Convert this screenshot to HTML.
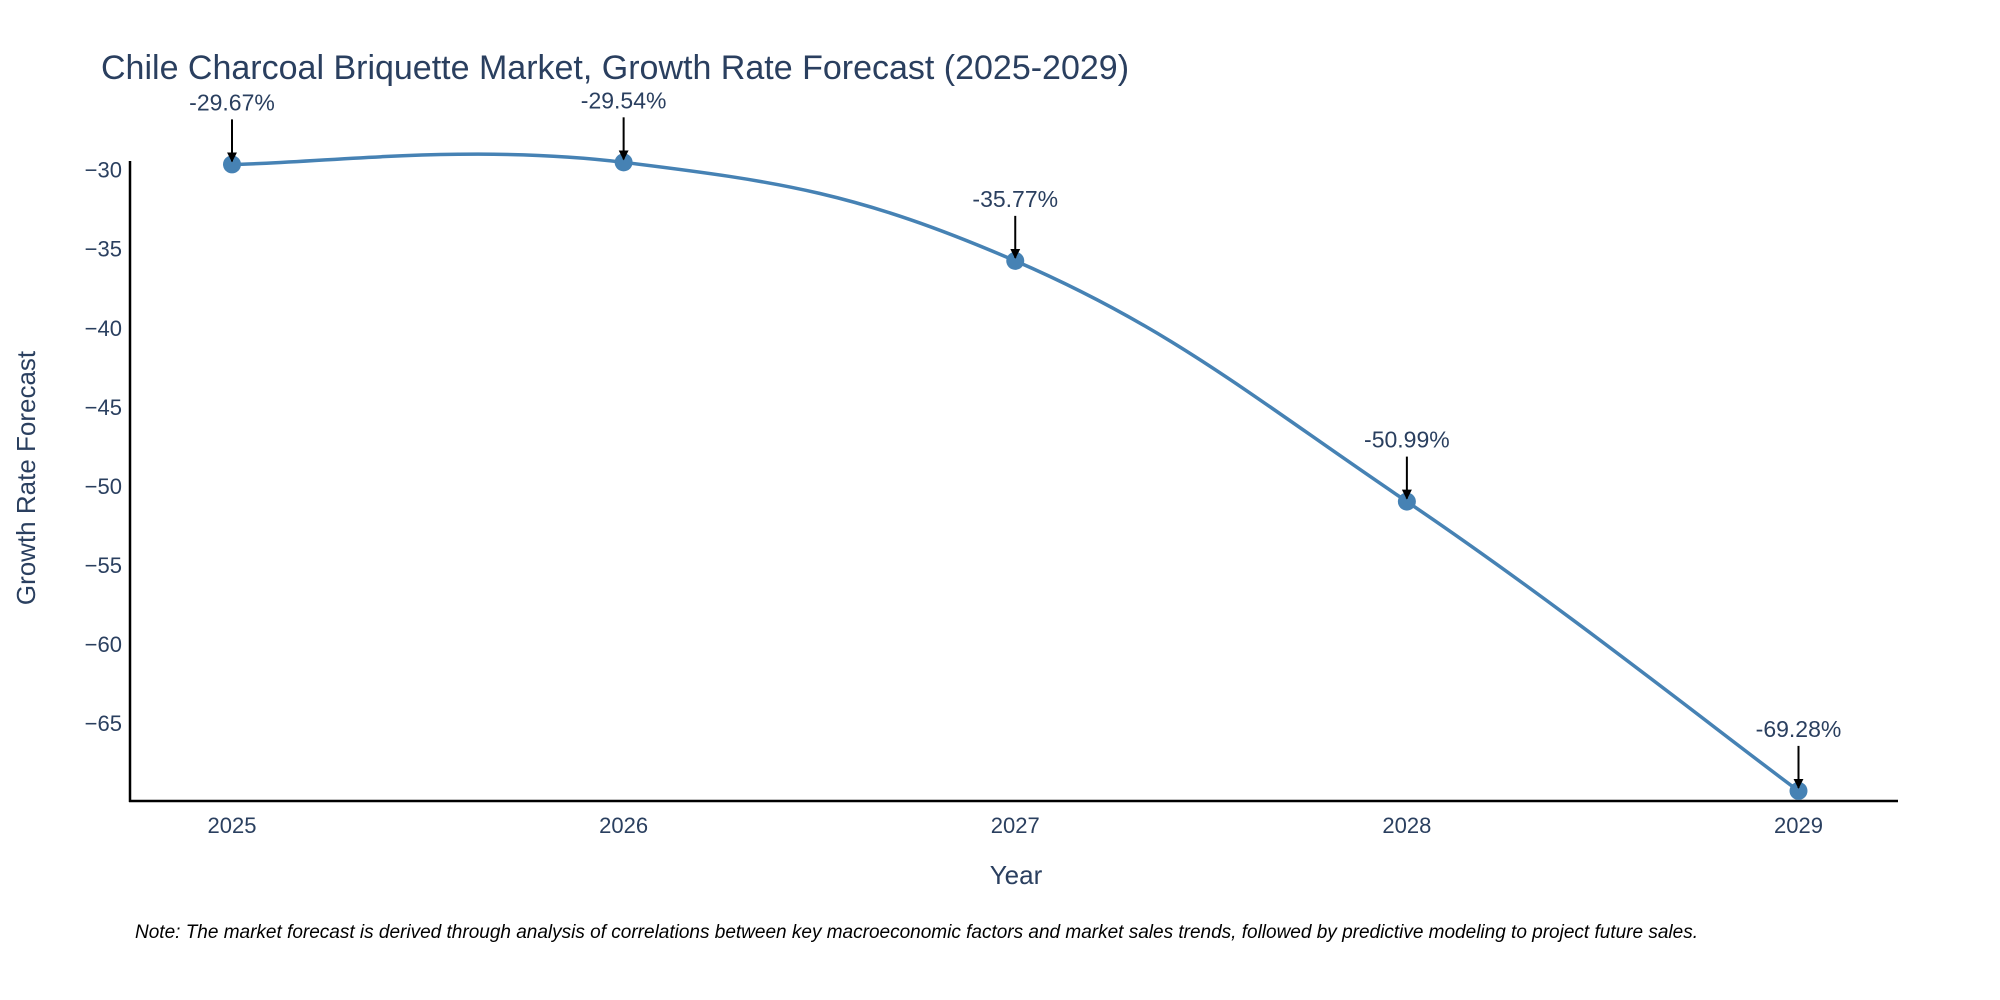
<!DOCTYPE html>
<html><head><meta charset="utf-8">
<style>
html,body{margin:0;padding:0;background:#fff;}
svg{display:block;font-family:"Liberation Sans",sans-serif;}
</style></head>
<body>
<svg id="chart" width="2000" height="1000" viewBox="0 0 2000 1000">
  <defs>
    <marker id="arrowhead" viewBox="0 0 10 10" refX="9" refY="5" markerWidth="5" markerHeight="5" orient="auto">
      <path d="M0,0 L10,5 L0,10 z" fill="#000"/>
    </marker>
  </defs>
  <text x="101" y="79" font-size="34" fill="#2a3f5f">Chile Charcoal Briquette Market, Growth Rate Forecast (2025-2029)</text>
  <g id="yticks"></g>
  <g id="xticks"></g>
  <line x1="130" y1="161" x2="130" y2="802" stroke="#000" stroke-width="2.5"/>
  <line x1="129" y1="801" x2="1898" y2="801" stroke="#000" stroke-width="2.5"/>
  <g id="series"></g>
  <g id="annotations"></g>
  <text x="1016" y="884" font-size="26" fill="#2a3f5f" text-anchor="middle">Year</text>
  <text x="0" y="0" font-size="26" fill="#2a3f5f" text-anchor="middle" transform="translate(35,478) rotate(-90)">Growth Rate Forecast</text>
  <text x="135" y="938" font-size="19" font-style="italic" fill="#000">Note: The market forecast is derived through analysis of correlations between key macroeconomic factors and market sales trends, followed by predictive modeling to project future sales.</text>
</svg>
<script>
const years = [2025, 2026, 2027, 2028, 2029];
const growthValues = [-29.67, -29.54, -35.77, -50.99, -69.28];
const valueLabels = ["-29.67%", "-29.54%", "-35.77%", "-50.99%", "-69.28%"];
const yTickValues = [-30, -35, -40, -45, -50, -55, -60, -65];

const NS = "http://www.w3.org/2000/svg";
function xScale(v){ return 232 + (v - 2025) * (1798.5 - 232) / 4; }
function yScale(v){ return 169.6 + (-30 - v) * (723.2 - 169.6) / 35; }
function mk(tag, attrs, parent){
  const e = document.createElementNS(NS, tag);
  for (const k in attrs) e.setAttribute(k, attrs[k]);
  parent.appendChild(e);
  return e;
}
const yt = document.getElementById("yticks");
yTickValues.forEach(v => {
  const t = mk("text", {x:122, y:yScale(v)+8, "font-size":22, fill:"#2a3f5f", "text-anchor":"end"}, yt);
  
  
  t.textContent = "\u2212" + Math.abs(v);
});
const xt = document.getElementById("xticks");
years.forEach(v => {
  const t = mk("text", {x:xScale(v), y:833, "font-size":22, fill:"#2a3f5f", "text-anchor":"middle"}, xt);
  
  
  t.textContent = String(v);
});
const pts = years.map((y,i) => [xScale(y), yScale(growthValues[i])]);
let d = "M" + pts[0][0] + "," + pts[0][1];
const s = 0.2;
for (let i = 0; i < pts.length - 1; i++){
  const p0 = pts[Math.max(0,i-1)], p1 = pts[i], p2 = pts[i+1], p3 = pts[Math.min(pts.length-1,i+2)];
  const c1 = [p1[0] + (p2[0]-p0[0])*s, p1[1] + (p2[1]-p0[1])*s];
  const c2 = [p2[0] - (p3[0]-p1[0])*s, p2[1] - (p3[1]-p1[1])*s];
  d += " C" + c1 + " " + c2 + " " + p2;
}
const ser = document.getElementById("series");
const path = mk("path", {d:d, fill:"none", stroke:"#4682b4", "stroke-width":3.5}, ser);


pts.forEach(p => {
  const c = mk("circle", {cx:p[0], cy:p[1], r:9, fill:"#4682b4"}, ser);
  
  
});
const ann = document.getElementById("annotations");
pts.forEach((p,i) => {
  const l = mk("line", {x1:p[0], y1:p[1]-45, x2:p[0], y2:p[1]-3, stroke:"#000", "stroke-width":2, "marker-end":"url(#arrowhead)"}, ann);
  
  
  const t = mk("text", {x:p[0], y:p[1]-54, "font-size":23, fill:"#2a3f5f", "text-anchor":"middle"}, ann);
  
  
  t.textContent = valueLabels[i];
});
</script>
</body></html>
